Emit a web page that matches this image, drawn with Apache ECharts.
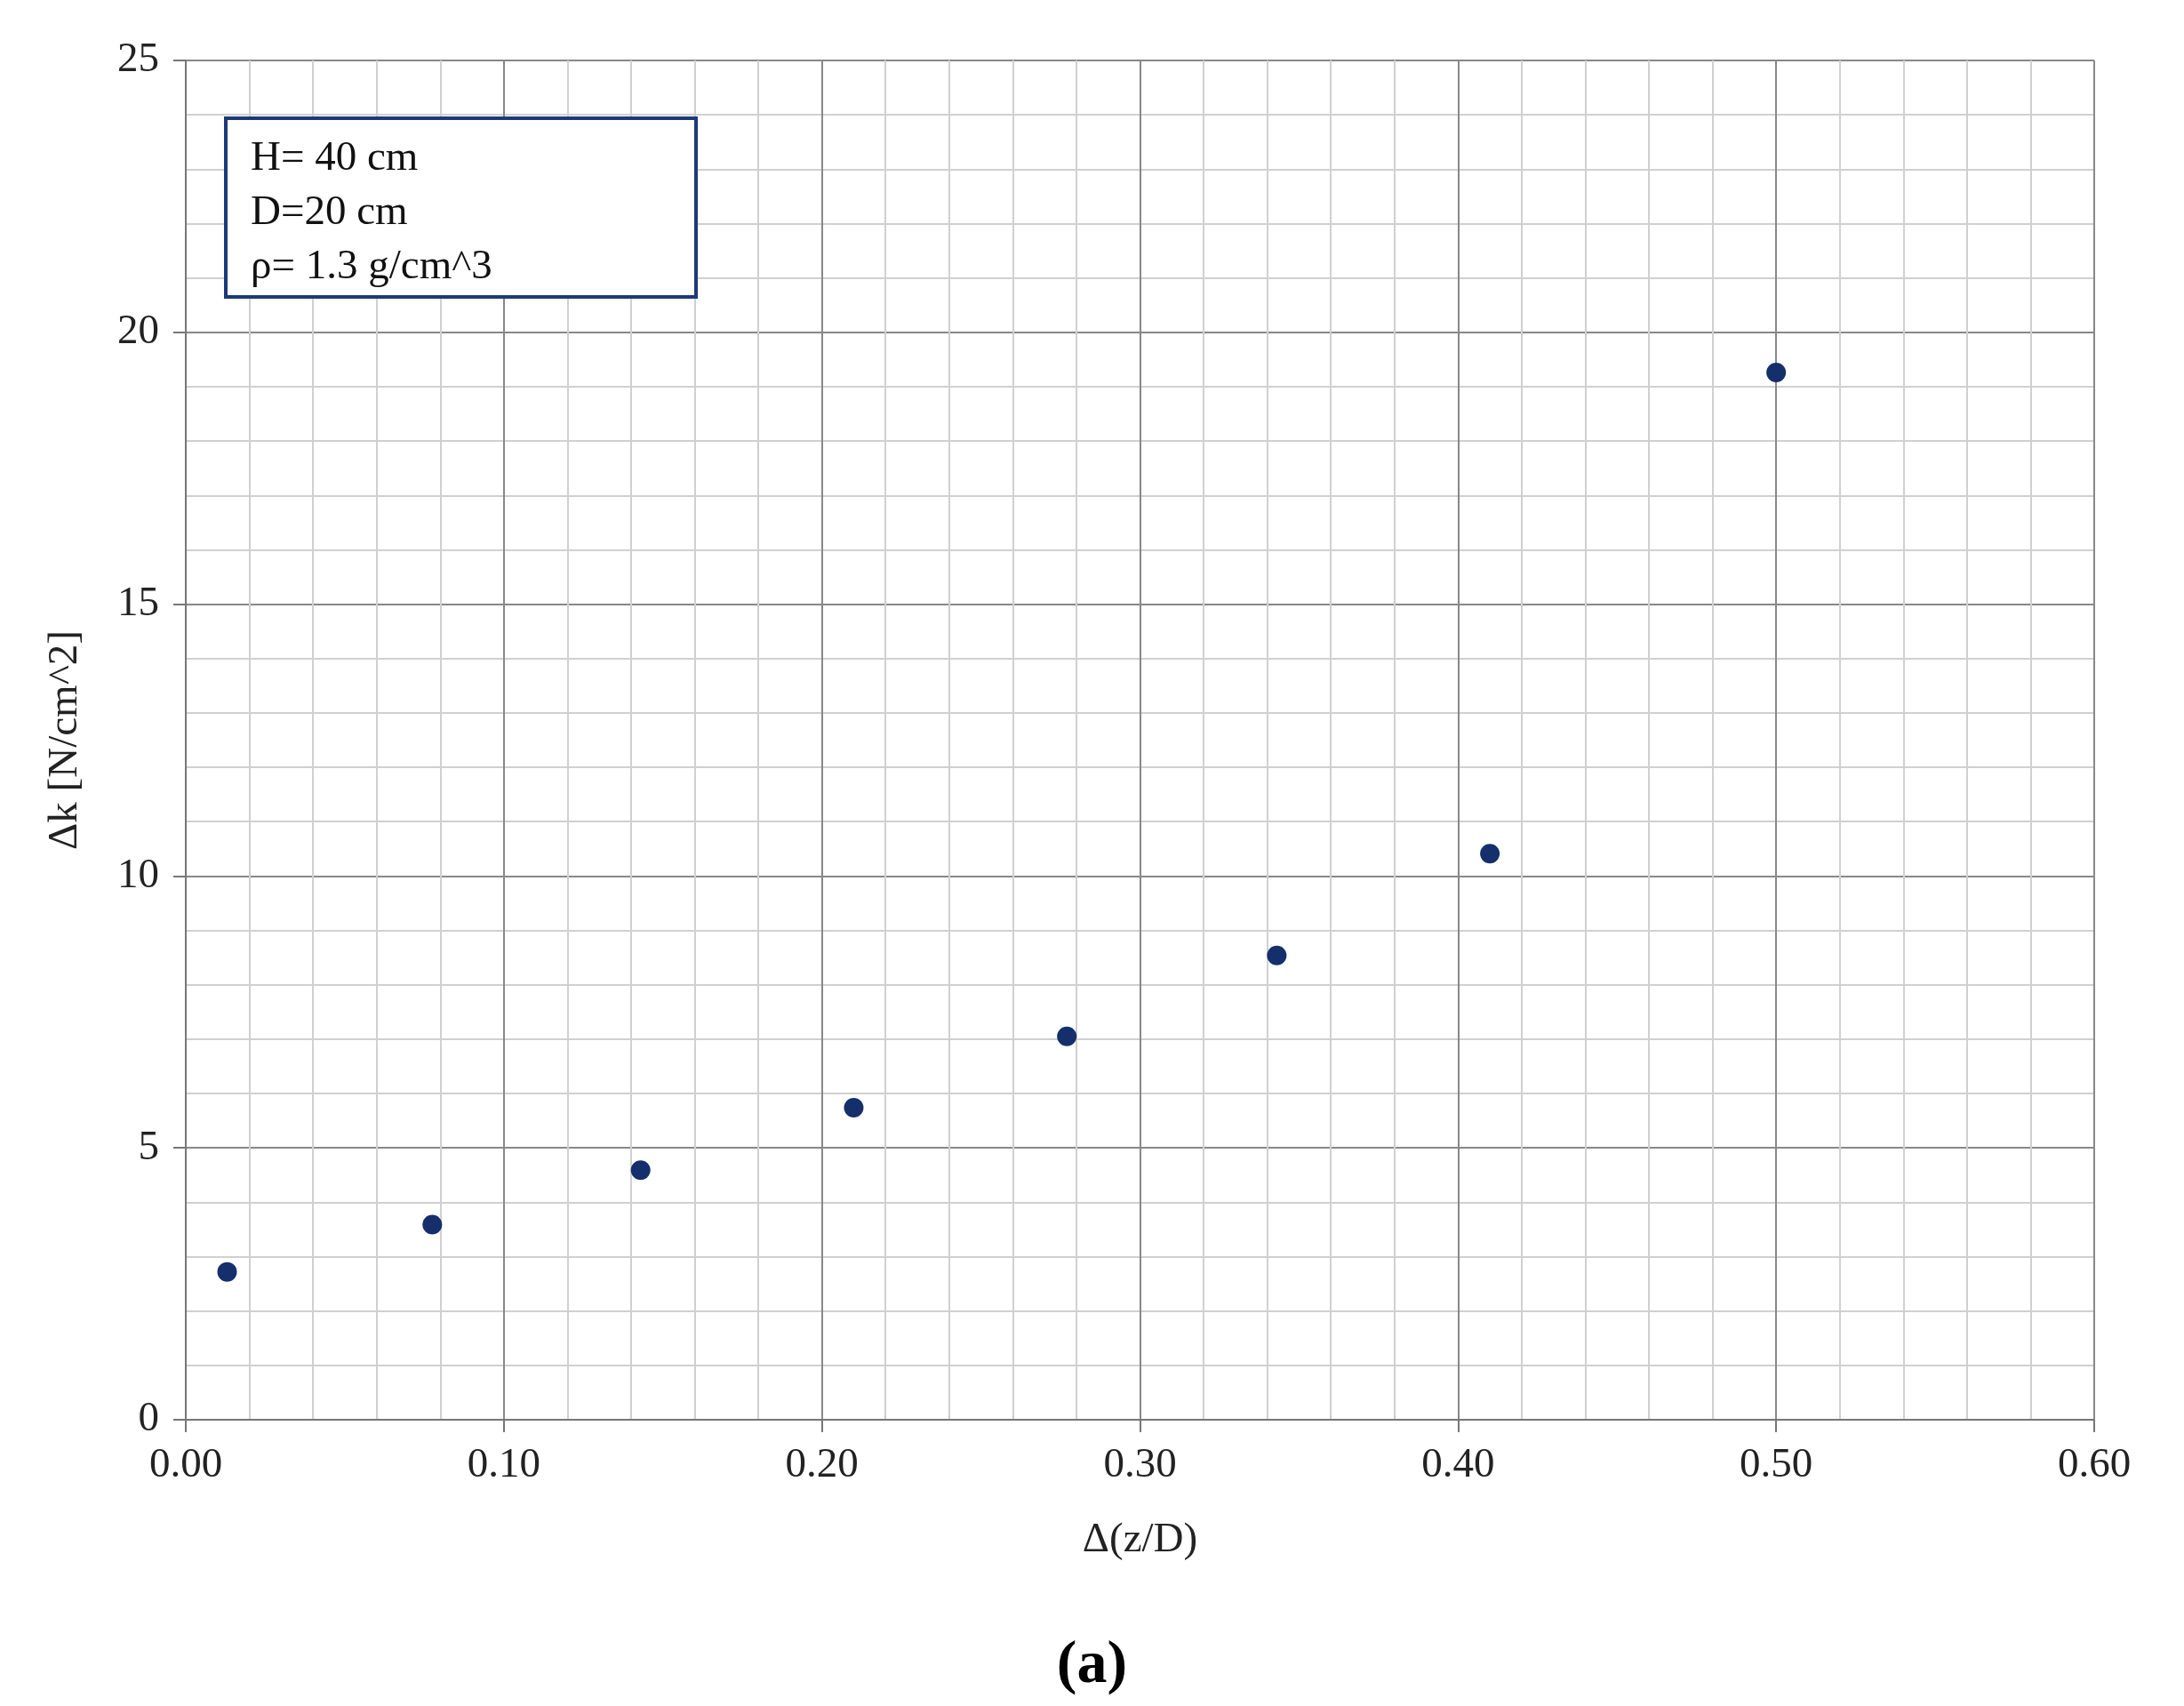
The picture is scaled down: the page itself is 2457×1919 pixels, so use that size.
<!DOCTYPE html>
<html><head><meta charset="utf-8">
<script src="https://cdn.jsdelivr.net/npm/echarts@6/dist/echarts.min.js"></script>
<style>html,body{margin:0;padding:0;background:#fff}#c{width:2457px;height:1919px}</style>
</head><body><div id="c"></div>
<script>
const xValues = [0.013, 0.0775, 0.143, 0.210, 0.277, 0.343, 0.410, 0.500];
const yValues = [2.72, 3.59, 4.59, 5.74, 7.05, 8.54, 10.41, 19.26];
const infoLines = ['H= 40 cm', 'D=20 cm', 'ρ= 1.3 g/cm^3'];
const xTitle = 'Δ(z/D)';
const yTitle = 'Δk [N/cm^2]';
const panelLabel = '(a)';

const font = 'Liberation Serif';
const chart = echarts.init(document.getElementById('c'));
chart.setOption({
  animation: false,
  grid: {left: 209, right: 101, top: 68, bottom: 322},
  xAxis: {
    type: 'value', min: 0, max: 0.6, interval: 0.1,
    name: xTitle, nameLocation: 'middle', nameGap: 112,
    nameTextStyle: {fontFamily: font, fontSize: 47, color: '#222'},
    axisLabel: {fontFamily: font, fontSize: 47, color: '#222', margin: 28, formatter: v => v.toFixed(2)},
    axisLine: {show: true, onZero: false, lineStyle: {color: '#777', width: 2}},
    axisTick: {show: true, length: 14, lineStyle: {color: '#777', width: 2}},
    splitLine: {show: true, lineStyle: {color: '#888', width: 2}},
    minorTick: {show: false, splitNumber: 5},
    minorSplitLine: {show: true, lineStyle: {color: '#d0d0d0', width: 2}}
  },
  yAxis: {
    type: 'value', min: 0, max: 25, interval: 5,
    name: yTitle, nameLocation: 'middle', nameGap: 112,
    nameTextStyle: {fontFamily: font, fontSize: 47, color: '#222'},
    axisLabel: {fontFamily: font, fontSize: 47, color: '#222', margin: 30},
    axisLine: {show: true, lineStyle: {color: '#777', width: 2}},
    axisTick: {show: true, length: 14, lineStyle: {color: '#777', width: 2}},
    splitLine: {show: true, lineStyle: {color: '#888', width: 2}},
    minorTick: {show: false, splitNumber: 5},
    minorSplitLine: {show: true, lineStyle: {color: '#d0d0d0', width: 2}}
  },
  series: [{
    type: 'scatter', symbolSize: 22,
    itemStyle: {color: '#142f6b', opacity: 1},
    data: xValues.map((x, i) => [x, yValues[i]])
  }],
  graphic: [
    {type: 'rect', left: 252, top: 131, shape: {width: 529, height: 201},
     style: {fill: '#fff', stroke: '#1c3a78', lineWidth: 4}, z: 100},
    {type: 'text', left: 282, top: 148, z: 101,
     style: {text: infoLines.join('\n'), font: '47px "Liberation Serif"', lineHeight: 61, fill: '#111'}},
    {type: 'text', left: 'center', top: 1840, z: 101,
     style: {text: panelLabel, font: 'bold 68px "Liberation Serif"', fill: '#000'}}
  ]
});
</script></body></html>
